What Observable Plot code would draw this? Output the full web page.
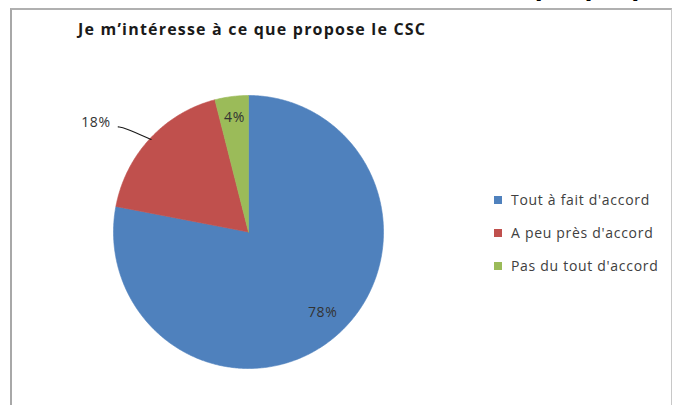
<!DOCTYPE html>
<html>
<head>
<meta charset="utf-8">
<script src="https://cdn.jsdelivr.net/npm/d3@7"></script>
<script src="https://cdn.jsdelivr.net/npm/@observablehq/plot@0.6"></script>
<style>
  html, body { margin: 0; padding: 0; background: #fff; }
  #wrap { position: relative; width: 680px; height: 405px; overflow: hidden; font-family: "Open Sans", "DejaVu Sans", sans-serif; }
  #heading { position: absolute; left: 525px; top: -31px; font: bold 29px "Liberation Sans", sans-serif; color: #000; white-space: nowrap; }
  #frame { position: absolute; left: 10px; top: 8px; width: 662px; height: 410px; border: 1px solid #c8c8c8; border-left: 2px solid #a8a8a8; border-top: 2px solid #b0b0b0; box-sizing: border-box; }
  #title { position: absolute; left: 78px; top: 18px; font: bold 16px "Open Sans", sans-serif; letter-spacing: 1.2px; color: #1a1a1a; white-space: nowrap; }
  #chart { position: absolute; left: 0; top: 0; }
  .leg { position: absolute; left: 494px; font-size: 14px; letter-spacing: 0.7px; color: #404040; white-space: nowrap; display: flex; align-items: center; }
  .leg span.sw { display: inline-block; width: 8px; height: 8px; margin-right: 9px; }
</style>
</head>
<body>
<div id="wrap">
  <div id="heading">que propose</div>
  <div id="frame"></div>
  <div id="title">Je m’intéresse à ce que propose le CSC</div>
  <div id="chart"></div>
  <div id="legend"></div>
</div>
<script>
// ---- data ----
const categories = ["Tout à fait d'accord", "A peu près d'accord", "Pas du tout d'accord"];
const values = [78, 18, 4];
const labels = ["78%", "18%", "4%"];
const colors = ["#4F81BD", "#C0504D", "#9BBB59"];

// ---- geometry derived from data ----
const arcs = d3.pie().sort(null).value(d => d)(values);
const slicePts = [];
arcs.forEach((a, i) => {
  const n = Math.max(4, Math.ceil((a.endAngle - a.startAngle) / 0.01));
  slicePts.push({cat: categories[i], x: 0, y: 0});
  for (let k = 0; k <= n; k++) {
    const t = a.startAngle + (a.endAngle - a.startAngle) * k / n;
    slicePts.push({cat: categories[i], x: Math.sin(t), y: Math.cos(t)});
  }
  slicePts.push({cat: categories[i], x: 0, y: 0});
});

// inside labels; the small red slice gets an outside label with a leader line
const insideR = 0.83;
const labelPts = arcs.map((a, i) => {
  const m = (a.startAngle + a.endAngle) / 2;
  return {cat: categories[i], label: labels[i], mid: m, x: Math.sin(m) * insideR, y: Math.cos(m) * insideR};
});
labelPts[0].y += 0.035;
labelPts[0].x += 0.02;
const red = labelPts[1];
red.x = -1.13; red.y = 0.785;
const leader = [
  {x: Math.sin(red.mid) * 0.99, y: Math.cos(red.mid) * 0.99},
  {x: -0.92, y: 0.765},
  {x: -0.965, y: 0.77}
];

const plot = Plot.plot({
  width: 680,
  height: 405,
  marginLeft: 113,
  marginRight: 297,
  marginTop: 95,
  marginBottom: 37,
  x: {domain: [-1, 1], axis: null},
  y: {domain: [-1, 1], axis: null},
  color: {domain: categories, range: colors},
  style: {background: "transparent", overflow: "visible"},
  marks: [
    Plot.line(slicePts, {x: "x", y: "y", z: "cat", fill: "cat", stroke: "cat", strokeWidth: 0.6, curve: "linear"}),
    Plot.line(leader, {x: "x", y: "y", stroke: "#1a1a1a", strokeWidth: 1.2, curve: "basis"}),
    Plot.text(labelPts, {x: "x", y: "y", dy: -2, text: "label", fill: "#333", fontSize: 14, fontFamily: "Open Sans"})
  ]
});
plot.querySelectorAll("text").forEach(t => t.style.letterSpacing = "0.6px");
document.getElementById("chart").appendChild(plot);

// legend
const legend = document.getElementById("legend");
const legTops = [190, 223, 256];
categories.forEach((c, i) => {
  const div = document.createElement("div");
  div.className = "leg";
  div.style.top = legTops[i] + "px";
  div.innerHTML = `<span class="sw" style="background:${colors[i]}"></span>${c}`;
  legend.appendChild(div);
});
</script>
</body>
</html>
